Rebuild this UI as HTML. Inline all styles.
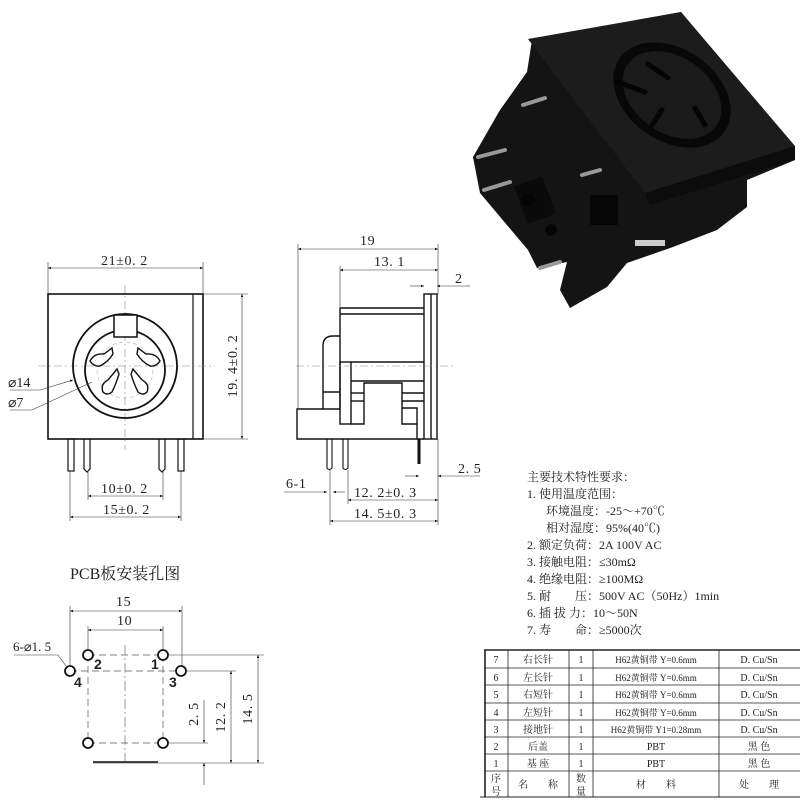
<!DOCTYPE html>
<html><head><meta charset="utf-8"><style>
html,body{margin:0;padding:0;background:#fff;}
svg{display:block;}
text{font-family:"Liberation Serif","Noto Serif CJK SC",serif;fill:#222;}
.cj{font-family:"Liberation Serif","Noto Serif CJK SC","Noto Sans CJK SC",serif;}
.d{font-size:14px;letter-spacing:0.6px;}
</style></head><body>
<svg width="800" height="800" viewBox="0 0 800 800" xmlns="http://www.w3.org/2000/svg">
<defs>
<marker id="a" viewBox="0 0 10 10" refX="10" refY="5" markerWidth="7" markerHeight="5" orient="auto-start-reverse"><path d="M0,1 L10,5 L0,9z" fill="#111"/></marker>
</defs>

<!-- ===== PHOTO ===== -->
<g>
<polygon points="532,40 681,12 795,148 795,160 747,180 747,207 717,230 673,247 627,263 607,287 570,308 560,290 567,262 537,268 528,250 480,193 473,157 500,110 527,72" fill="#141414"/>
<polygon points="528,39 681,12 795,146 645,193" fill="#1c1c1c"/>
<polygon points="645,193 795,146 795,160 650,205" fill="#0c0c0c"/>
<ellipse cx="672" cy="95" rx="64" ry="46" transform="rotate(35 672 95)" fill="#080808"/>
<ellipse cx="672" cy="95" rx="54" ry="38" transform="rotate(35 672 95)" fill="#1a1a1a"/>
<path d="M648,64 L668,78 M618,82 L645,92 M662,110 L652,125 M695,108 L705,125" stroke="#050505" stroke-width="5" stroke-linecap="round"/>
<rect x="520" y="180" width="30" height="40" fill="#0a0a0a" transform="rotate(-20 535 200)"/>
<circle cx="528" cy="200" r="6" fill="#050505"/><circle cx="551" cy="230" r="6" fill="#050505"/>
<rect x="590" y="195" width="28" height="30" fill="#060606"/>
<g stroke="#999" stroke-width="4" stroke-linecap="round">
<line x1="523" y1="105" x2="545" y2="98"/>
<line x1="478" y1="157" x2="505" y2="150"/>
<line x1="484" y1="190" x2="510" y2="182"/>
<line x1="582" y1="175" x2="600" y2="170"/>
<line x1="540" y1="268" x2="560" y2="262"/>
</g>
<rect x="635" y="240" width="30" height="6" fill="#ccc"/>
</g>

<!-- ===== FRONT VIEW ===== -->
<g stroke="#111" fill="none">
<rect x="48" y="294" width="155" height="145" stroke-width="1.6"/>
<line x1="193" y1="294" x2="193" y2="439" stroke-width="1.2"/>
<line x1="38" y1="366" x2="215" y2="366" stroke="#888" stroke-width="0.6" stroke-dasharray="8,3,2,3"/>
<line x1="125" y1="285" x2="125" y2="450" stroke="#888" stroke-width="0.6" stroke-dasharray="8,3,2,3"/>
<circle cx="125" cy="366" r="52" stroke-width="1.8"/>
<circle cx="125" cy="370" r="40" stroke-width="1.8"/>
<circle cx="125" cy="370" r="28" stroke="#999" stroke-width="0.5" stroke-dasharray="4,3"/>
<rect x="114" y="315" width="23" height="22" fill="#fff" stroke-width="1.5"/>
<g stroke-width="1.4" fill="#fff">
<path d="M90,361 Q94,353 104,354 L112,348 L113,354 Q108,362 100,366 Q94,367 90,361 Z"/>
<path d="M160,361 Q156,353 146,354 L138,348 L137,354 Q142,362 150,366 Q156,367 160,361 Z"/>
<path d="M103,392 Q100,384 108,380 L117,369 L119,374 Q116,384 112,392 Q107,396 103,392 Z"/>
<path d="M147,392 Q150,384 142,380 L133,369 L131,374 Q134,384 138,392 Q143,396 147,392 Z"/>
</g>
<g stroke-width="1.2">
<rect x="68" y="439" width="6" height="32"/>
<path d="M84,439 V469 L87,472 L90,469 V439"/>
<path d="M159,439 V469 L162,472 L165,469 V439"/>
<rect x="178" y="439" width="6" height="32"/>
</g>
<g stroke-width="0.6" stroke="#333">
<line x1="48" y1="262" x2="48" y2="294"/><line x1="203" y1="262" x2="203" y2="294"/>
<line x1="48" y1="268" x2="203" y2="268" marker-start="url(#a)" marker-end="url(#a)"/>
<line x1="203" y1="294" x2="248" y2="294"/><line x1="203" y1="439" x2="248" y2="439"/>
<line x1="242" y1="294" x2="242" y2="439" marker-start="url(#a)" marker-end="url(#a)"/>
<line x1="88" y1="472" x2="88" y2="500"/><line x1="163" y1="472" x2="163" y2="500"/>
<line x1="88" y1="496" x2="163" y2="496" marker-start="url(#a)" marker-end="url(#a)"/>
<line x1="70" y1="471" x2="70" y2="521"/><line x1="181" y1="471" x2="181" y2="521"/>
<line x1="70" y1="517" x2="181" y2="517" marker-start="url(#a)" marker-end="url(#a)"/>
<polyline points="10,390 40,390 73,380" marker-end="url(#a)"/>
<polyline points="10,410 32,410 92,382" />
</g>
</g>
<text x="101" y="265" class="d">21±0. 2</text>
<text x="237" y="366" class="d" text-anchor="middle" transform="rotate(-90 237 366)">19. 4±0. 2</text>
<text x="101" y="493" class="d">10±0. 2</text>
<text x="103" y="514" class="d">15±0. 2</text>
<text x="8" y="387" font-size="14">⌀14</text>
<text x="8" y="407" font-size="14">⌀7</text>

<!-- ===== SIDE VIEW ===== -->
<g stroke="#111" fill="none" stroke-width="1.4">
<rect x="424" y="294" width="13" height="145"/>
<line x1="431" y1="294" x2="431" y2="439"/>
<line x1="340" y1="308" x2="424" y2="308"/>
<line x1="340" y1="314" x2="424" y2="314"/>
<line x1="340" y1="308" x2="340" y2="409"/>
<path d="M323,409 V346 Q323,336 333,336 H340"/>
<line x1="323" y1="392" x2="340" y2="392"/>
<rect x="340" y="362" width="11" height="62"/>
<line x1="351" y1="362" x2="424" y2="362"/>
<line x1="351" y1="381" x2="424" y2="381"/>
<polyline points="351,424 364,424 364,383 402,383 402,424 417,424"/>
<line x1="351" y1="393" x2="364" y2="393"/><line x1="351" y1="401" x2="364" y2="401"/>
<line x1="402" y1="393" x2="424" y2="393"/><line x1="402" y1="401" x2="424" y2="401"/>
<polyline points="402,408 417,408 417,439"/>
<polyline points="340,409 297,409 297,439 424,439"/>
<line x1="296" y1="366" x2="455" y2="366" stroke="#888" stroke-width="0.6" stroke-dasharray="8,3,2,3"/>
<path d="M327,439 V468 Q329.5,471 332,468 V439" stroke-width="1.1"/>
<path d="M343,439 V468 Q345.5,471 348,468 V439" stroke-width="1.1"/>
<line x1="419" y1="439" x2="419" y2="464" stroke-width="3"/>
</g>
<g stroke="#333" stroke-width="0.6" fill="none">
<line x1="298" y1="244" x2="298" y2="409"/>
<line x1="438" y1="244" x2="438" y2="294"/>
<line x1="298" y1="249" x2="438" y2="249" marker-start="url(#a)" marker-end="url(#a)"/>
<line x1="340" y1="266" x2="340" y2="308"/>
<line x1="340" y1="270" x2="438" y2="270" marker-start="url(#a)" marker-end="url(#a)"/>
<line x1="410" y1="286" x2="424" y2="286" marker-end="url(#a)"/>
<line x1="465" y1="286" x2="437" y2="286" marker-end="url(#a)"/>
<line x1="465" y1="286" x2="470" y2="286"/>
<line x1="405" y1="476" x2="419" y2="476" marker-end="url(#a)"/>
<line x1="480" y1="476" x2="438" y2="476" marker-end="url(#a)"/>
<line x1="438" y1="439" x2="438" y2="525"/>
<line x1="284" y1="492" x2="327" y2="492" marker-end="url(#a)"/>
<line x1="345" y1="492" x2="333" y2="492" marker-end="url(#a)"/>
<line x1="330" y1="470" x2="330" y2="525"/>
<line x1="348" y1="470" x2="348" y2="504"/>
<line x1="348" y1="500" x2="438" y2="500" marker-start="url(#a)" marker-end="url(#a)"/>
<line x1="330" y1="521" x2="438" y2="521" marker-start="url(#a)" marker-end="url(#a)"/>
</g>
<text x="360" y="245" class="d">19</text>
<text x="374" y="266" class="d">13. 1</text>
<text x="455" y="283" class="d">2</text>
<text x="458" y="473" class="d">2. 5</text>
<text x="286" y="488" class="d">6-1</text>
<text x="354" y="497" class="d">12. 2±0. 3</text>
<text x="354" y="518" class="d">14. 5±0. 3</text>

<!-- ===== SPECS ===== -->
<g font-size="12" class="cj">
<text x="527" y="481" class="cj">主要技术特性要求：</text>
<text x="527" y="498" class="cj">1. 使用温度范围：</text>
<text x="546" y="515" class="cj">环境温度：-25～+70℃</text>
<text x="546" y="532" class="cj">相对湿度：95%(40℃)</text>
<text x="527" y="549" class="cj">2. 额定负荷：2A  100V  AC</text>
<text x="527" y="566" class="cj">3. 接触电阻：≤30mΩ</text>
<text x="527" y="583" class="cj">4. 绝缘电阻：≥100MΩ</text>
<text x="527" y="600" class="cj">5. 耐　　压：500V AC（50Hz）1min</text>
<text x="527" y="617" class="cj">6. 插 拔 力：10～50N</text>
<text x="527" y="634" class="cj">7. 寿　　命：≥5000次</text>
</g>

<!-- ===== PCB ===== -->
<text x="70" y="579" font-size="16" class="cj">PCB板安装孔图</text>
<g stroke="#111" fill="none">
<g stroke="#555" stroke-width="0.7" stroke-dasharray="7,4">
<line x1="88" y1="655" x2="163" y2="655"/>
<line x1="70" y1="671" x2="181" y2="671"/>
<line x1="88" y1="743" x2="163" y2="743"/>
<line x1="88" y1="655" x2="88" y2="743"/>
<line x1="163" y1="655" x2="163" y2="743"/>
</g>
<line x1="125" y1="645" x2="125" y2="762" stroke="#555" stroke-width="0.6" stroke-dasharray="10,3,2,3"/>
<line x1="93" y1="762" x2="158" y2="762" stroke-width="1.4"/>
<g stroke-width="1.8" fill="#fff">
<circle cx="88" cy="655" r="5"/><circle cx="163" cy="655" r="5"/>
<circle cx="70" cy="671" r="5"/><circle cx="181" cy="671" r="5"/>
<circle cx="88" cy="743" r="5"/><circle cx="163" cy="743" r="5"/>
</g>
<g stroke="#333" stroke-width="0.6">
<line x1="70" y1="606" x2="70" y2="666"/><line x1="182" y1="606" x2="182" y2="666"/>
<line x1="70" y1="611" x2="182" y2="611" marker-start="url(#a)" marker-end="url(#a)"/>
<line x1="88" y1="626" x2="88" y2="650"/><line x1="163" y1="626" x2="163" y2="650"/>
<line x1="88" y1="630" x2="163" y2="630" marker-start="url(#a)" marker-end="url(#a)"/>
<polyline points="14,655 58,655 66,666"/>
<line x1="168" y1="655" x2="264" y2="655"/>
<line x1="186" y1="671" x2="236" y2="671"/>
<line x1="168" y1="743" x2="208" y2="743"/>
<line x1="93" y1="763" x2="264" y2="763"/>
<line x1="258" y1="655" x2="258" y2="763" marker-start="url(#a)" marker-end="url(#a)"/>
<line x1="231" y1="671" x2="231" y2="763" marker-start="url(#a)" marker-end="url(#a)"/>
<line x1="204" y1="700" x2="204" y2="743" marker-end="url(#a)"/>
<line x1="204" y1="785" x2="204" y2="763" marker-end="url(#a)"/>
</g>
</g>
<text x="116" y="606" class="d">15</text>
<text x="117" y="625" class="d">10</text>
<text x="13" y="651" font-size="13">6-⌀1. 5</text>
<g font-weight="bold" font-size="14">
<text x="94" y="669" style="font-family:'Liberation Sans',sans-serif">2</text>
<text x="151" y="669" style="font-family:'Liberation Sans',sans-serif">1</text>
<text x="74" y="687" style="font-family:'Liberation Sans',sans-serif">4</text>
<text x="169" y="687" style="font-family:'Liberation Sans',sans-serif">3</text>
</g>
<text x="252" y="709" class="d" text-anchor="middle" transform="rotate(-90 252 709)">14. 5</text>
<text x="225" y="717" class="d" text-anchor="middle" transform="rotate(-90 225 717)">12. 2</text>
<text x="198" y="714" class="d" text-anchor="middle" transform="rotate(-90 198 714)">2. 5</text>

<!-- ===== TABLE ===== -->
<g stroke="#222" fill="none">
<line x1="484" y1="650" x2="800" y2="650" stroke-width="1.6"/>
<g stroke-width="0.8">
<line x1="484" y1="668" x2="800" y2="668"/>
<line x1="484" y1="685" x2="800" y2="685"/>
<line x1="484" y1="703" x2="800" y2="703"/>
<line x1="484" y1="720" x2="800" y2="720"/>
<line x1="484" y1="737" x2="800" y2="737"/>
<line x1="484" y1="754" x2="800" y2="754"/>
<line x1="484" y1="771" x2="800" y2="771"/>
<line x1="508" y1="650" x2="508" y2="797"/>
<line x1="569" y1="650" x2="569" y2="797"/>
<line x1="593" y1="650" x2="593" y2="797"/>
<line x1="719" y1="650" x2="719" y2="797"/>
</g>
<line x1="485" y1="650" x2="485" y2="797" stroke-width="1.6"/>
<line x1="480" y1="797" x2="800" y2="797" stroke-width="1"/>
</g>
<g font-size="10" text-anchor="middle" class="cj">
<text x="496" y="663">7</text><text x="538" y="663" class="cj">右长针</text><text x="581" y="663">1</text><text x="656" y="663" class="cj" font-size="9">H62黄铜带 Y=0.6mm</text><text x="759" y="663">D. Cu/Sn</text>
<text x="496" y="681">6</text><text x="538" y="681" class="cj">左长针</text><text x="581" y="681">1</text><text x="656" y="681" class="cj" font-size="9">H62黄铜带 Y=0.6mm</text><text x="759" y="681">D. Cu/Sn</text>
<text x="496" y="698">5</text><text x="538" y="698" class="cj">右短针</text><text x="581" y="698">1</text><text x="656" y="698" class="cj" font-size="9">H62黄铜带 Y=0.6mm</text><text x="759" y="698">D. Cu/Sn</text>
<text x="496" y="716">4</text><text x="538" y="716" class="cj">左短针</text><text x="581" y="716">1</text><text x="656" y="716" class="cj" font-size="9">H62黄铜带 Y=0.6mm</text><text x="759" y="716">D. Cu/Sn</text>
<text x="496" y="733">3</text><text x="538" y="733" class="cj">接地针</text><text x="581" y="733">1</text><text x="656" y="733" class="cj" font-size="9">H62黄铜带 Y1=0.28mm</text><text x="759" y="733">D. Cu/Sn</text>
<text x="496" y="750">2</text><text x="538" y="750" class="cj">后盖</text><text x="581" y="750">1</text><text x="656" y="750">PBT</text><text x="759" y="750" class="cj">黑 色</text>
<text x="496" y="767">1</text><text x="538" y="767" class="cj">基 座</text><text x="581" y="767">1</text><text x="656" y="767">PBT</text><text x="759" y="767" class="cj">黑 色</text>
<text x="496" y="782" class="cj">序</text><text x="496" y="795" class="cj">号</text>
<text x="538" y="788" class="cj">名　　称</text>
<text x="581" y="782" class="cj">数</text><text x="581" y="795" class="cj">量</text>
<text x="656" y="788" class="cj">材　　料</text>
<text x="759" y="788" class="cj">处　　理</text>
</g>
</svg>
</body></html>
